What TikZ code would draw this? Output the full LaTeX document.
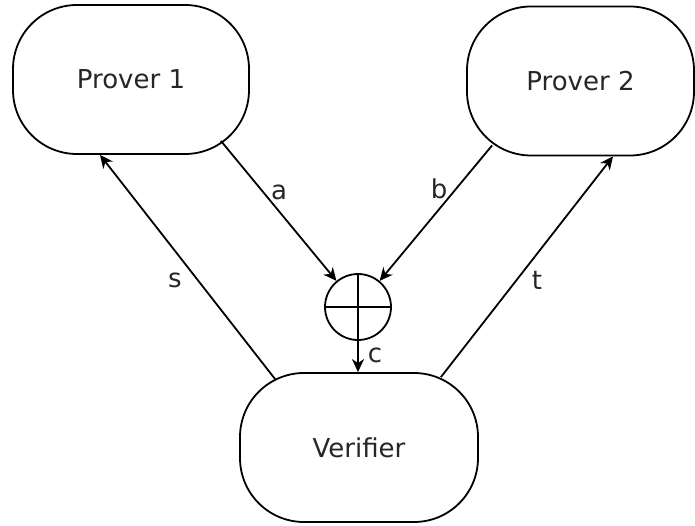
\documentclass[tikz,border=0pt]{standalone}
\usepackage{fontspec}
\setmainfont{DejaVu Sans}
\usetikzlibrary{arrows.meta}
\begin{document}
\begin{tikzpicture}[x=1pt,y=-1pt,
  party/.style={draw=black, line width=1.8pt, rounded corners=64pt,
    minimum width=#1, minimum height=149pt, inner sep=0pt,
    font=\fontsize{26}{30}\selectfont, text=black!85},
  xorbox/.style={draw=black, line width=1.8pt, circle, minimum size=66pt, inner sep=0pt},
  conn/.style={line width=1.8pt, -{Stealth[length=13pt,width=12pt,inset=4pt]}},
  lbl/.style={inner sep=0pt, font=\fontsize{26}{30}\selectfont, text=black!85}]
\useasboundingbox (0,0) rectangle (695,526);

\node[party=236pt] (p1) at (131,79.5) {Prover 1};
\node[party=227pt] (p2) at (580.5,81) {Prover 2};
\node[party=238pt] (v) at (359,447.5) {Verifier};
\node[xorbox] (xor) at (358,307) {};
\draw[line width=1.8pt] (xor.north) -- (xor.south);
\draw[line width=1.8pt] (xor.west) -- (xor.east);

\draw[conn] ([xshift=-29pt,yshift=14pt]p1.south east) -- (xor);
\draw[conn] ([xshift=26pt,yshift=11pt]p2.south west) -- (xor);
\draw[conn] (xor.south) -- (xor.south |- v.north);
\draw[conn] ([xshift=36pt,yshift=-7pt]v.north west) -- ([xshift=-31pt]p1.south);
\draw[conn] ([xshift=-38pt,yshift=-5pt]v.north east) -- ([xshift=32.5pt]p2.south);

\node[lbl] (la) at (279,192.5) {a};
\node[lbl] (lb) at (439,189) {b};
\node[lbl] (ls) at (175,280) {s};
\node[lbl] (lt) at (537,280) {t};
\node[lbl] (lc) at (375,355) {c};
\end{tikzpicture}
\end{document}
